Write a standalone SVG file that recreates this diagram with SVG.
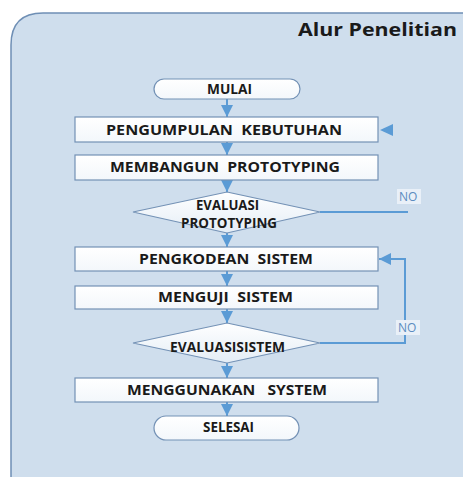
<svg xmlns="http://www.w3.org/2000/svg" width="463" height="477" viewBox="0 0 463 477">
<defs>
<linearGradient id="gb" x1="0" y1="0" x2="0" y2="1"><stop offset="0" stop-color="#ffffff"/><stop offset="1" stop-color="#f3f7fb"/></linearGradient>
<linearGradient id="gd" x1="0" y1="0" x2="0" y2="1"><stop offset="0" stop-color="#ffffff"/><stop offset="1" stop-color="#e4edf6"/></linearGradient>
<marker id="ah" markerWidth="14" markerHeight="12" refX="12" refY="6" orient="auto" markerUnits="userSpaceOnUse"><path d="M0,0 L12,6 L0,12 Z" fill="#5b9bd5"/></marker>
</defs>
<style>
.box{fill:url(#gb);stroke:#7391b5;stroke-width:1.2}
.dia{fill:url(#gd);stroke:#7391b5;stroke-width:1.2}
.t{font-family:"Open Sans","Liberation Sans",sans-serif;font-weight:bold;font-size:14px;fill:#1a1a1a;text-anchor:middle;white-space:pre}
.c{fill:none;stroke:#5b9bd5;stroke-width:2}
.no{font-family:"Open Sans","Liberation Sans",sans-serif;font-size:12px;fill:#5b8cc0}
</style>
<rect x="0" y="0" width="463" height="477" fill="#ffffff"/>
<path d="M11,477 L11,45 Q11,13 43,13 L470,13 L470,480" fill="#cfdeed" stroke="#6f8fb5" stroke-width="1.5"/>
<text x="457" y="36" font-family="Open Sans, Liberation Sans, sans-serif" font-weight="bold" font-size="17.5" fill="#1a1a1a" text-anchor="end" textLength="159" lengthAdjust="spacingAndGlyphs">Alur Penelitian</text>

<g id="connectors">
<line class="c" x1="227" y1="98" x2="227" y2="117" marker-end="url(#ah)"/>
<line class="c" x1="227" y1="142" x2="227" y2="155" marker-end="url(#ah)"/>
<line class="c" x1="227" y1="180" x2="227" y2="192" marker-end="url(#ah)"/>
<line class="c" x1="227" y1="233" x2="227" y2="247" marker-end="url(#ah)"/>
<line class="c" x1="227" y1="271" x2="227" y2="286" marker-end="url(#ah)"/>
<line class="c" x1="227" y1="309" x2="227" y2="323" marker-end="url(#ah)"/>
<line class="c" x1="227" y1="363" x2="227" y2="378" marker-end="url(#ah)"/>
<line class="c" x1="227" y1="402" x2="227" y2="416" marker-end="url(#ah)"/>
<path d="M380,130 L393,124 L393,136 Z" fill="#5b9bd5"/>
<line class="c" x1="320" y1="212" x2="408" y2="212" stroke-width="1.5"/>
<path class="c" d="M320,343 L405,343 L405,259 L379,259" marker-end="url(#ah)"/>
<rect x="397" y="189" width="24" height="15" fill="#e9f0f8"/>
<text class="no" x="399" y="201">NO</text>
<rect x="396" y="320" width="24" height="15" fill="#e9f0f8"/>
<text class="no" x="398" y="332">NO</text>
</g>

<g id="mulai">
<rect class="box" x="154" y="79" width="146" height="20" rx="10"/>
<text class="t" x="229.5" y="94" font-size="11.5" textLength="45" lengthAdjust="spacingAndGlyphs">MULAI</text>
</g>
<g id="pengumpulan">
<rect class="box" x="75" y="117" width="303" height="25"/>
<text class="t" x="224" y="135" textLength="236" lengthAdjust="spacingAndGlyphs">PENGUMPULAN  KEBUTUHAN</text>
</g>
<g id="membangun">
<rect class="box" x="75" y="155" width="303" height="25"/>
<text class="t" x="225" y="172" textLength="230" lengthAdjust="spacingAndGlyphs">MEMBANGUN  PROTOTYPING</text>
</g>
<g id="evaluasi-prototyping">
<polygon class="dia" points="227,192 320,212 227,233 133,212"/>
<text class="t" x="227.5" y="210" font-size="11.5" textLength="63" lengthAdjust="spacingAndGlyphs">EVALUASI</text>
<text class="t" x="229" y="228" font-size="11.5" textLength="96" lengthAdjust="spacingAndGlyphs">PROTOTYPING</text>
</g>
<g id="pengkodean">
<rect class="box" x="75" y="247" width="303" height="24"/>
<text class="t" x="226" y="264" textLength="174" lengthAdjust="spacingAndGlyphs">PENGKODEAN  SISTEM</text>
</g>
<g id="menguji">
<rect class="box" x="75" y="286" width="303" height="23"/>
<text class="t" x="225.5" y="302" textLength="135" lengthAdjust="spacingAndGlyphs">MENGUJI  SISTEM</text>
</g>
<g id="evaluasi-sistem">
<polygon class="dia" points="227,323 320,343 227,363 133,343"/>
<text class="t" x="227.5" y="352" font-size="11.5" textLength="115" lengthAdjust="spacingAndGlyphs">EVALUASISISTEM</text>
</g>
<g id="menggunakan">
<rect class="box" x="75" y="378" width="303" height="24"/>
<text class="t" x="227" y="395" textLength="200" lengthAdjust="spacingAndGlyphs">MENGGUNAKAN   SYSTEM</text>
</g>
<g id="selesai">
<rect class="box" x="154" y="416" width="145" height="24" rx="12"/>
<text class="t" x="228.5" y="432" font-size="11.5" textLength="51" lengthAdjust="spacingAndGlyphs">SELESAI</text>
</g>
</svg>
